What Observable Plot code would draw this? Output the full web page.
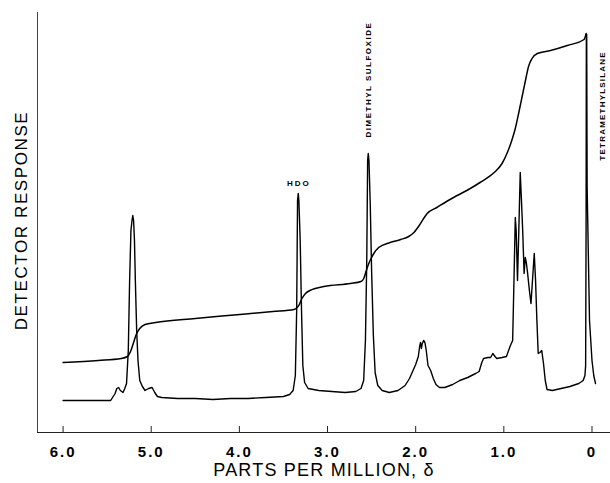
<!DOCTYPE html>
<html><head><meta charset="utf-8">
<script src="https://cdn.jsdelivr.net/npm/d3@7"></script>
<script src="https://cdn.jsdelivr.net/npm/@observablehq/plot@0.6"></script>
<style>body{margin:0;background:#fff;} svg{display:block}</style>
</head><body><div id="chart"></div>
<script>
const spectrumPpm = [6.00,5.70,5.46,5.41,5.39,5.37,5.35,5.32,5.30,5.28,5.26,5.245,5.23,5.218,5.209,5.20,5.19,5.18,5.165,5.15,5.13,5.10,5.07,5.03,4.99,4.96,4.93,4.88,4.70,4.50,4.30,4.10,3.90,3.70,3.50,3.43,3.39,3.365,3.35,3.34,3.332,3.325,3.31,3.295,3.28,3.26,3.22,3.10,2.95,2.80,2.68,2.62,2.59,2.57,2.555,2.545,2.538,2.53,2.515,2.50,2.48,2.46,2.43,2.38,2.30,2.20,2.12,2.07,2.03,2.00,1.97,1.955,1.945,1.935,1.925,1.91,1.895,1.88,1.86,1.83,1.80,1.77,1.73,1.67,1.58,1.50,1.41,1.32,1.28,1.25,1.23,1.18,1.15,1.125,1.10,1.08,1.02,0.97,0.93,0.90,0.885,0.87,0.86,0.845,0.83,0.814,0.80,0.786,0.77,0.757,0.745,0.73,0.71,0.692,0.675,0.655,0.64,0.625,0.61,0.59,0.57,0.55,0.53,0.51,0.45,0.35,0.25,0.15,0.10,0.08,0.072,0.067,0.064,0.060,0.055,0.028,0.0,-0.02,-0.04];
const spectrumResponse = [30,30,30,37,42,43,40,38,42,47,80,150,200,210,215,210,190,150,100,70,50,44,40,42,43,38,34,33,32,32,31,32,32,33,34,36,40,55,120,230,237,230,190,120,65,48,42,40,39,38,39,42,50,90,170,270,277,270,225,160,95,58,45,40,38,40,45,52,60,66,74,84,88,82,87,90,88,80,65,60,52,46,43,43,46,50,53,57,59,68,72,73,73,77,74,72,73,74,84,90,150,213,200,150,200,258,230,200,157,173,168,157,140,127,150,177,150,110,77,78,80,67,50,41,40,42,44,47,50,55,65,200,396,396,243,110,70,55,47];
const integralPpm = [6.00,5.60,5.34,5.27,5.23,5.20,5.17,5.13,5.07,4.95,4.50,4.06,3.62,3.38,3.345,3.32,3.29,3.25,3.20,3.04,2.74,2.62,2.589,2.56,2.532,2.50,2.475,2.42,2.29,2.17,2.08,2.02,1.96,1.91,1.87,1.76,1.65,1.57,1.42,1.27,1.11,1.02,0.96,0.91,0.87,0.83,0.79,0.75,0.72,0.68,0.62,0.47,0.28,0.09,0.066];
const integralResponse = [68,70,72,74,80,88,96,102,106,108,112,115.5,119,121,123,126,132,137,140,144,147,149,152,160,167,173,177,183,188,191,194,198,205,212,217,223,229,233,240,248,258,267,278,290,302,318,335,352,364,372,377,380,385,391,397];
const tickValues = [6,5,4,3,2,1,0];
const tickLabels = ["6.0","5.0","4.0","3.0","2.0","1.0","0"];
const peakLabels = ["HDO","DIMETHYL SULFOXIDE","TETRAMETHYLSILANE"];
const peakLabelPpm = [3.326, 2.541, -0.113];
const peakLabelResponse = [247, 293, 270];
const xTitle = "PARTS PER MILLION, δ";
const yTitle = "DETECTOR RESPONSE";

const spectrum = spectrumPpm.map((p, i) => ({ppm: p, r: spectrumResponse[i]}));
const integral = integralPpm.map((p, i) => ({ppm: p, r: integralResponse[i]}));
const labels = peakLabels.map((t, i) => ({text: t, ppm: peakLabelPpm[i], r: peakLabelResponse[i]}));
const ticks = tickValues.map((v, i) => ({v, label: tickLabels[i]}));

const chart = Plot.plot({
  width: 610, height: 483,
  marginLeft: 37, marginRight: 0, marginTop: 12, marginBottom: 51,
  style: {fontFamily: "Liberation Sans, Arial, sans-serif", background: "#fff", color: "#000"},
  x: {domain: [6.29, -0.21], axis: null},
  y: {domain: [-2, 418], axis: null},
  marks: [
    Plot.ruleY([-2], {stroke: "#222", strokeWidth: 1.2}),
    Plot.ruleX([6.29], {y1: -2, y2: 418, stroke: "#444"}),
    Plot.ruleX(tickValues, {y1: -2, y2: 4, stroke: "#222"}),
    Plot.text(ticks, {x: "v", text: "label", frameAnchor: "bottom", lineAnchor: "top", dy: 14, fontSize: 15, fontWeight: "bold"}),
    Plot.line(spectrum, {x: "ppm", y: "r", stroke: "#000", strokeWidth: 1.4}),
    Plot.line(integral, {x: "ppm", y: "r", curve: "monotone-x", stroke: "#000", strokeWidth: 1.5}),
    Plot.text(labels.slice(0, 1), {x: "ppm", y: "r", text: "text", fontSize: 8, fontWeight: "bold"}),
    Plot.text(labels.slice(1), {x: "ppm", y: "r", text: "text", rotate: -90, textAnchor: "start", fontSize: 8, fontWeight: "bold"}),
    Plot.text([xTitle], {frameAnchor: "bottom", dy: 43, fontSize: 18}),
    Plot.text([yTitle], {frameAnchor: "left", textAnchor: "middle", rotate: -90, dx: -16, dy: -2, fontSize: 17})
  ]
});
document.getElementById("chart").appendChild(chart);
const spacing = new Map([[xTitle, "1.2px"], [yTitle, "1.6px"], ["HDO", "2px"], ["DIMETHYL SULFOXIDE", "1.5px"], ["TETRAMETHYLSILANE", "1.2px"]]);
tickLabels.forEach(t => spacing.set(t, "2px"));
chart.querySelectorAll("text").forEach(el => {
  const s = spacing.get(el.textContent);
  if (s) el.style.letterSpacing = s;
});
</script>
</body></html>
